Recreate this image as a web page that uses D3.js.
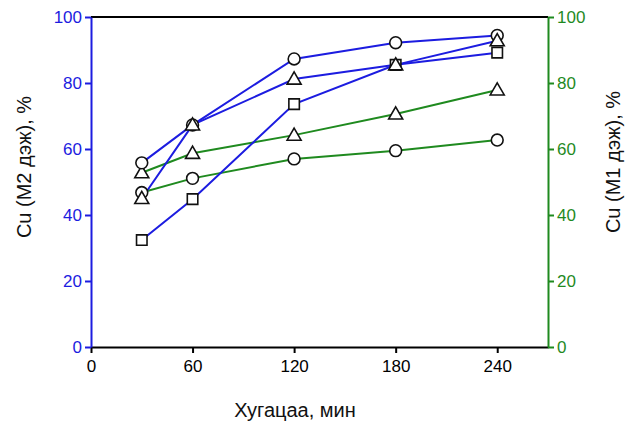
<!DOCTYPE html>
<html>
<head>
<meta charset="utf-8">
<script src="https://cdn.jsdelivr.net/npm/d3@7"></script>
<style>
  body { margin: 0; background: #fff; }
  text { font-family: "Liberation Sans", Arial, sans-serif; }
</style>
</head>
<body>
<div id="vis"></div>
<script>
var times = [30, 60, 120, 180, 240];
var xTicks = [0, 60, 120, 180, 240];
var yTicks = [0, 20, 40, 60, 80, 100];

// M2 series (left axis, blue)
var m2Circle = [55.8, 67.3, 87.3, 92.2, 94.4];
var m2Triangle = [45.0, 67.3, 81.2, 85.5, 92.8];
var m2Square = [32.4, 44.8, 73.6, 85.5, 89.2];
// M1 series (right axis, green)
var m1Triangle = [52.8, 58.7, 64.2, 70.6, 77.9];
var m1Circle = [46.8, 51.1, 57.0, 59.5, 62.7];

var W = 632, H = 421;
var margin = { left: 91, right: 84, top: 17, bottom: 74 };
var blue = "#1c1ce0", green = "#1f8a1f";

var svg = d3.select("#vis").append("svg")
    .attr("width", W)
    .attr("height", H);

var x = d3.scaleLinear().domain([0, 270]).range([margin.left, W - margin.right]);
var yL = d3.scaleLinear().domain([0, 100]).range([H - margin.bottom, margin.top]);
var yR = d3.scaleLinear().domain([0, 100]).range([H - margin.bottom, margin.top]);

// top frame line
svg.append("line")
  .attr("x1", x(0)).attr("x2", x(270))
  .attr("y1", yL(100)).attr("y2", yL(100))
  .attr("stroke", "#000").attr("stroke-width", 2);

function styleAxis(g, color, size) {
  g.select(".domain").attr("stroke", color).attr("stroke-width", 2);
  g.selectAll(".tick line").attr("stroke", color).attr("stroke-width", 2);
  g.selectAll(".tick text").attr("fill", color)
    .style("font-size", size + "px")
    .style("font-family", "'Liberation Sans', Arial, sans-serif");
}

var gx = svg.append("g")
  .attr("transform", "translate(0," + yL(0) + ")")
  .call(d3.axisBottom(x).tickValues(xTicks).tickSize(6).tickSizeOuter(0).tickPadding(7));
styleAxis(gx, "#000", 17);

var gl = svg.append("g")
  .attr("transform", "translate(" + x(0) + ",0)")
  .call(d3.axisLeft(yL).tickValues(yTicks).tickSize(6).tickSizeOuter(0).tickPadding(3));
styleAxis(gl, blue, 17);

var gr = svg.append("g")
  .attr("transform", "translate(" + x(270) + ",0)")
  .call(d3.axisRight(yR).tickValues(yTicks).tickSize(6).tickSizeOuter(0).tickPadding(3));
styleAxis(gr, green, 17);

// axis titles
svg.append("text")
  .attr("transform", "translate(31,167) rotate(-90)")
  .attr("text-anchor", "middle")
  .style("font-size", "20px")
  .attr("fill", "#111")
  .text("Cu (M2 дэж), %");

svg.append("text")
  .attr("transform", "translate(620,162) rotate(-90)")
  .attr("text-anchor", "middle")
  .style("font-size", "20px")
  .attr("fill", "#111")
  .text("Cu (M1 дэж), %");

svg.append("text")
  .attr("x", 295).attr("y", 417)
  .attr("text-anchor", "middle")
  .style("font-size", "20px")
  .attr("fill", "#111")
  .text("Хугацаа, мин");

// draw order: circles underneath, triangles on top where points coincide
var series = [
  { values: m1Circle, y: yR, color: green, marker: "circle" },
  { values: m1Triangle, y: yR, color: green, marker: "triangle" },
  { values: m2Circle, y: yL, color: blue, marker: "circle" },
  { values: m2Square, y: yL, color: blue, marker: "square" },
  { values: m2Triangle, y: yL, color: blue, marker: "triangle" }
];

var symbols = {
  circle: d3.symbol().type(d3.symbolCircle).size(110),
  triangle: d3.symbol().type(d3.symbolTriangle).size(85),
  square: d3.symbol().type(d3.symbolSquare).size(110)
};

series.forEach(function(s) {
  var pts = times.map(function(t, i) { return [t, s.values[i]]; });
  svg.append("path")
    .datum(pts)
    .attr("fill", "none")
    .attr("stroke", s.color)
    .attr("stroke-width", 2)
    .attr("d", d3.line()
      .x(function(d) { return x(d[0]); })
      .y(function(d) { return s.y(d[1]); }));
});

series.forEach(function(s) {
  var pts = times.map(function(t, i) { return [t, s.values[i]]; });
  svg.append("g").selectAll("path")
    .data(pts).enter()
    .append("path")
    .attr("d", symbols[s.marker])
    .attr("transform", function(d) {
      var dy = s.marker === "triangle" ? 1 : 0;
      return "translate(" + x(d[0]) + "," + (s.y(d[1]) + dy) + ")";
    })
    .attr("fill", "#fff")
    .attr("stroke", "#111")
    .attr("stroke-width", 1.6);
});
</script>
</body>
</html>
